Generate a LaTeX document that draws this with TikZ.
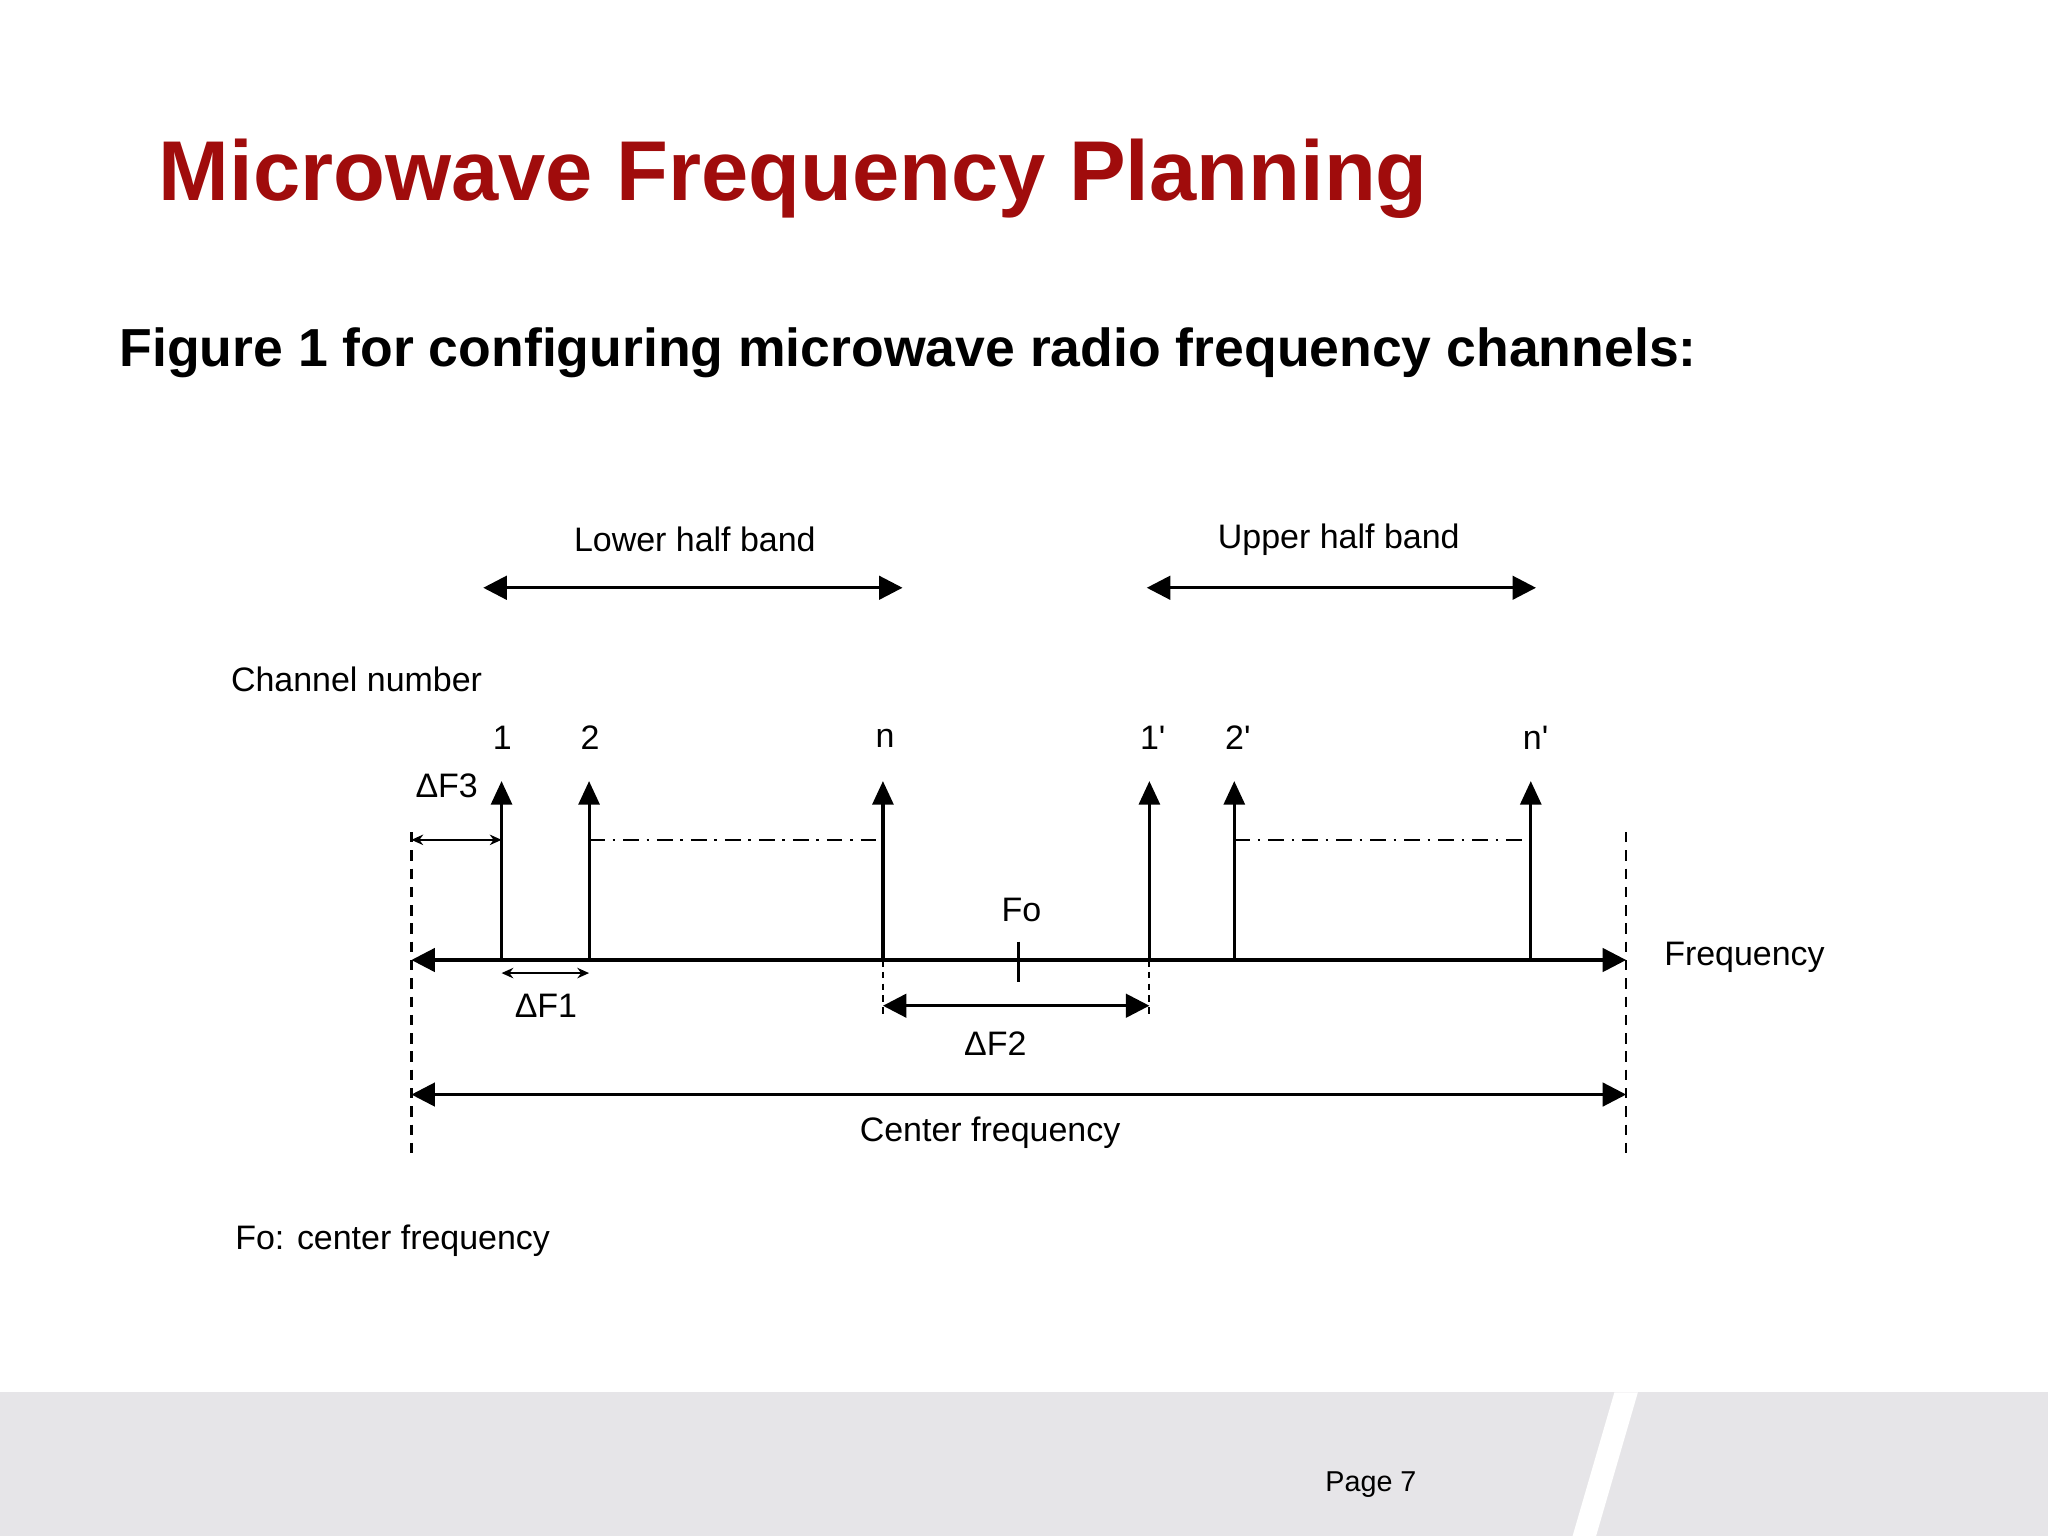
\documentclass[tikz,border=0pt]{standalone}
\usepackage{fontspec}
\setmainfont{Liberation Sans}
\usetikzlibrary{arrows.meta}
\definecolor{titred}{HTML}{A00C0C}
\definecolor{foot}{HTML}{E6E5E8}
\begin{document}
\begin{tikzpicture}[x=1pt,y=-1pt,
 lbl/.style={font=\fontsize{26}{30}\selectfont,inner sep=0pt},
 big/.style={{Triangle[length=18pt,width=18pt]}-{Triangle[length=18pt,width=18pt]},line width=2.4pt},
 chan/.style={-{Triangle[length=18pt,width=16pt]},line width=2.4pt},
 small/.style={{Stealth[length=9pt,width=8pt]}-{Stealth[length=9pt,width=8pt]},line width=2pt},
 dsh/.style={line width=2pt,dash pattern=on 8pt off 6pt},
 dd/.style={line width=1.6pt,dash pattern=on 12pt off 6pt on 2pt off 6pt}]
\useasboundingbox (0,0) rectangle (1568,1176);
\fill[white] (0,0) rectangle (1568,1176);
\fill[foot] (0,1066) rectangle (1568,1176);
\fill[white] (1236,1066) -- (1254,1066) -- (1222,1176) -- (1204,1176) -- cycle;
\node[anchor=west,text=titred,font=\bfseries\fontsize{65}{72}\selectfont] (t) at (118,137) {Microwave Frequency Planning};
\node[anchor=west,font=\bfseries\fontsize{41}{46}\selectfont] (st) at (88,270) {Figure 1 for configuring microwave radio frequency channels:};
\node[anchor=east,font=\fontsize{22}{26}\selectfont] (pg) at (1088,1137) {Page 7};
% half bands
\coordinate (l1) at (370,450); \coordinate (l2) at (691,450);
\coordinate (u1) at (878,450); \coordinate (u2) at (1176,450);
\draw[big] (l1) -- (l2); \draw[big] (u1) -- (u2);
\node[lbl] (lhb) at (532,413) {Lower half band};
\node[lbl] (uhb) at (1025,413) {Upper half band};
\node[lbl] (cn) at (273,520) {Channel number};
% axis
\coordinate (a0) at (315,735); \coordinate (a1) at (1245,735);
\draw[big] (a0) -- (a1);
\coordinate (d0t) at (315,637); \coordinate (d0b) at (315,885);
\coordinate (d1t) at (1245,637); \coordinate (d1b) at (1245,885);
\draw[dsh] (d0t) -- (d0b); \draw[dsh] (d1t) -- (d1b);
% channels
\foreach \x/\t/\n in {384/1/c1,451/2/c2,676/n/cn3,880/1\textquotesingle/c4,945/2\textquotesingle/c5,1172/n\textquotesingle/c6}{
  \coordinate (\n b) at (\x,735); \coordinate (\n t) at (\x,598);
  \draw[chan] (\n b) -- (\n t);
  \node[lbl] at (\x-1+\x/250,565) {\t};
}
\draw[dd] (451,643) -- (676,643);
\draw[dd] (945,643) -- (1172,643);
% DF3
\coordinate (f3a) at (315,643); \coordinate (f3b) at (384,643);
\draw[small] (f3a) -- (f3b);
\node[lbl] (lf3) at (342,602) {ΔF3};
% DF1
\coordinate (f1a) at (384,745); \coordinate (f1b) at (451,745);
\draw[small] (f1a) -- (f1b);
\node[lbl] (lf1) at (418,770) {ΔF1};
% DF2
\draw[line width=1.6pt,dash pattern=on 5pt off 4pt] (676,735) -- (676,778);
\draw[line width=1.6pt,dash pattern=on 5pt off 4pt] (880,735) -- (880,778);
\coordinate (f2a) at (676,770); \coordinate (f2b) at (880,770);
\draw[big] (f2a) -- (f2b);
\node[lbl] (lf2) at (762,799) {ΔF2};
% Fo
\draw[line width=2.4pt] (780,721) -- (780,752);
\node[lbl] (fo) at (782,697) {Fo};
% center
\coordinate (c0) at (315,838); \coordinate (c1) at (1245,838);
\draw[big] (c0) -- (c1);
\node[lbl] (cf) at (758,867) {Center frequency};
\node[lbl,anchor=west] (fr) at (1274,733) {Frequency};
\node[lbl,anchor=west] (foc) at (180,950) {Fo: center frequency};
\end{tikzpicture}
\end{document}
